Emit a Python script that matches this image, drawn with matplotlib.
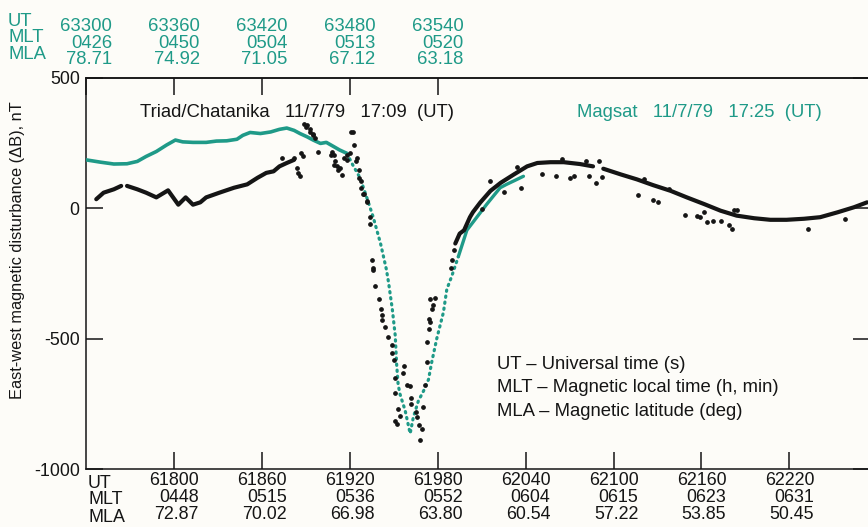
import matplotlib
matplotlib.use("Agg")
import matplotlib.pyplot as plt
import numpy as np

# ---------------- data ----------------
# bottom axis (Triad/Chatanika) tick annotations
triad_tick_ut = [61800, 61860, 61920, 61980, 62040, 62100, 62160, 62220]
triad_tick_mlt = ["0448", "0515", "0536", "0552", "0604", "0615", "0623", "0631"]
triad_tick_mla = ["72.87", "70.02", "66.98", "63.80", "60.54", "57.22", "53.85", "50.45"]

# top axis (Magsat) tick annotations
magsat_tick_ut = [63300, 63360, 63420, 63480, 63540]
magsat_tick_mlt = ["0426", "0450", "0504", "0513", "0520"]
magsat_tick_mla = ["78.71", "74.92", "71.05", "67.12", "63.18"]

# Magsat UT shown at the left edge vs Triad UT at the left edge
triad_ut_start = 61740
triad_ut_end = 62275
magsat_ut_start = 63300

y_ticks = [500, 0, -500, -1000]
y_tick_labels = ["500", "0", "-500", "-1000"]

# Magsat east-west disturbance (Magsat UT, nT)
magsat_ut = [63300, 63310, 63319, 63328, 63335, 63341, 63348, 63355, 63361, 63366,
             63373, 63382, 63389, 63396, 63403, 63407, 63412, 63419, 63426, 63432,
             63437, 63442, 63446, 63451, 63455, 63460, 63464, 63469, 63473, 63478,
             63482, 63487, 63492, 63496, 63501, 63505, 63506.5, 63509, 63511, 63512,
             63513, 63514.3, 63517.8, 63521.2, 63523.4, 63526.8, 63530.3, 63533.7, 63536,
             63539.4, 63543.9, 63546.2, 63549.6, 63554.1, 63559.9, 63566.7, 63573.5,
             63582.6, 63587, 63593, 63598.5]
magsat_db = [186, 177, 170, 171, 180, 199, 218, 243, 262, 255,
             253, 253, 258, 259, 265, 280, 291, 287, 293, 303,
             308, 299, 287, 274, 262, 249, 253, 237, 224, 211,
             167, 117, 35, -34, -135, -235, -286, -386, -487, -600,
             -676, -713, -776, -864, -801, -739, -701, -657, -588,
             -499, -399, -311, -260, -185, -84, -34, 16,
             79, 92, 108, 123]
magsat_sparse_from = 63478   # sampled sparsely (dotted look) between these UTs
magsat_sparse_to = 63550

# Triad dense band (Triad UT, nT); NaN marks gaps in the record
triad_line_ut = [61747, 61752, 61759, 61764, np.nan, 61768, 61775, 61781, 61788, 61796,
                 61803, 61808, 61813, 61818, 61822, 61831, 61841, 61850, 61857, 61863,
                 61868, 61872, 61877, 61882, np.nan,
                 61992, 61995, 61998, 62000, 62002, 62004, 62009, 62016, 62023, 62032,
                 62041, 62048, 62057, 62066, 62077, 62086, np.nan,
                 62093, 62105, 62116, 62127, 62139, 62150, 62162, 62173, 62184, 62196,
                 62207, 62218, 62230, 62241, 62253, 62264, 62273]
triad_line_db = [35, 60, 73, 86, np.nan, 86, 73, 60, 42, 69,
                 14, 42, 14, 23, 42, 60, 79, 92, 117, 136,
                 142, 161, 174, 186, np.nan,
                 -135, -97, -84, -59, -34, -15, 22, 67, 98, 130,
                 161, 174, 177, 177, 170, 161, np.nan,
                 152, 130, 111, 89, 67, 42, 16, -9, -28, -38,
                 -44, -44, -40, -34, -15, 4, 23]

# Triad scattered samples (Triad UT, nT)
triad_pts_ut = [61874, 61882, 61884, 61885, 61886, 61887, 61888, 61889, 61890, 61891,
                61893, 61893, 61895, 61895, 61896, 61898, 61907, 61908, 61909, 61909,
                61910, 61911, 61912, 61913, 61915, 61916, 61918, 61918, 61920,
                61921, 61922, 61923, 61924, 61925, 61926, 61926, 61928, 61928, 61929,
                61930, 61932, 61932, 61934, 61934, 61935, 61936, 61936, 61937, 61940,
                61941, 61942, 61942, 61944, 61946, 61949, 61949, 61950, 61957, 61956,
                61951, 61959, 61961, 61951, 61962, 61962, 61953, 61954, 61965, 61966,
                61951, 61952, 61967, 61969, 61968,
                61970, 61971, 61973, 61973, 61974, 61975, 61974, 61976, 61975, 61977,
                61978, 61989, 61990, 61991,
                62010, 62016, 62025, 62037, 62034, 62051, 62061, 62065, 62070, 62073,
                62081, 62083, 62088, 62090, 62092, 62117, 62121, 62127, 62130, 62138,
                62149, 62157, 62159, 62162, 62164, 62168, 62173, 62179, 62181, 62182,
                62184, 62233, 62258]
triad_pts_db = [195, 192, 155, 136, 123, 211, 199, 325, 312, 318,
                293, 306, 280, 287, 268, 218, 205, 218, 167, 205,
                180, 161, 148, 155, 129, 192, 205, 186, 211,
                293, 293, 243, 180, 192, 148, 117, 105, 79, 54,
                54, 29, 23, -34, -59, -197, -235, -229, -298, -348,
                -386, -411, -430, -455, -493, -525, -556, -581, -606, -631,
                -650, -676, -682, -707, -726, -751, -770, -795, -782, -801,
                -814, -827, -833, -845, -890,
                -763, -676, -588, -512, -462, -437, -424, -386, -348, -370,
                -343, -230, -197, -160,
                -3, 105, 64, 77, 157, 130, 123, 190, 117, 123,
                182, 123, 98, 180, 120, 52, 111, 31, 26, 73,
                -24, -31, -34, -15, -53, -49, -50, -65, -78, -6,
                -6, -78, -40]

# ---------------- style ----------------
TEAL = "#1f9a88"
INK = "#151515"
BG = "#fdfcf8"
FONT = "Liberation Sans"
FS = 13.3
FS_BOT = 12.9

plt.rcParams["font.family"] = [FONT, "DejaVu Sans"]

fig = plt.figure(figsize=(8.68, 5.27), dpi=100, facecolor=BG)
ax = fig.add_axes([86 / 868, 1 - 469 / 527, 784 / 868, 391 / 527], facecolor=BG)

ut_offset = magsat_ut_start - triad_ut_start
m_ut = np.array(magsat_ut, dtype=float) - ut_offset
m_db = np.array(magsat_db, dtype=float)
m_raw = np.array(magsat_ut, dtype=float)
sparse_idx = np.where((m_raw > magsat_sparse_from) & (m_raw < magsat_sparse_to))[0]
sp = slice(sparse_idx[0] - 1, sparse_idx[-1] + 2)

ax.plot(np.where(m_raw <= magsat_sparse_from, m_ut, np.nan), m_db,
        color=TEAL, lw=2.6, solid_capstyle="round", zorder=3)
ax.plot(np.where(m_raw >= magsat_sparse_to, m_ut, np.nan), m_db,
        color=TEAL, lw=2.4, solid_capstyle="round", zorder=3)
ax.plot(m_ut[sp], m_db[sp], color=TEAL, lw=2.3, ls=(0, (0.4, 1.5)),
        dash_capstyle="round", zorder=3)

ax.plot(triad_line_ut, triad_line_db, color=INK, lw=3.0, solid_capstyle="round",
        solid_joinstyle="round", zorder=4)
ax.plot(triad_pts_ut, triad_pts_db, ls="none", marker="o", ms=2.4, color=INK, zorder=4)

ax.set_xlim(triad_ut_start, triad_ut_end)
ax.set_ylim(-1000, 500)

for s in ax.spines.values():
    s.set_linewidth(1.1)
    s.set_color(INK)

# y axis
ax.set_yticks(y_ticks)
ax.set_yticklabels(y_tick_labels)
ax.tick_params(axis="y", which="both", direction="in", length=12, width=1.1,
               pad=4.5, labelsize=FS_BOT, colors=INK, right=True)

# bottom axis
ax.set_xticks(triad_tick_ut)
ax.set_xticklabels([f"{u}\n{t}\n{a}" for u, t, a in
                    zip(triad_tick_ut, triad_tick_mlt, triad_tick_mla)])
ax.tick_params(axis="x", direction="in", length=12, width=1.1, pad=2.5,
               labelsize=FS_BOT, colors=INK)
for lab in ax.get_xticklabels():
    lab.set_multialignment("right")
    lab.set_linespacing(1.0)

# top axis (Magsat)
sec = ax.secondary_xaxis("top", functions=(lambda x: x + ut_offset,
                                           lambda x: x - ut_offset))
sec.set_xticks(magsat_tick_ut)
sec.set_xticklabels([f"{u}\n{t}\n{a}" for u, t, a in
                     zip(magsat_tick_ut, magsat_tick_mlt, magsat_tick_mla)])
sec.tick_params(axis="x", direction="in", length=12, width=1.1, pad=7,
                labelsize=FS, color=INK, labelcolor=TEAL)
sec.spines["top"].set_linewidth(1.1)
sec.spines["top"].set_color(INK)
for lab in sec.get_xticklabels():
    lab.set_multialignment("right")
    lab.set_linespacing(0.98)
    lab.set_color(TEAL)

# row headers
fig.text(8 / 868, 1 - 38 / 527, "UT\nMLT\nMLA", ha="left", va="center",
         fontsize=FS, color=TEAL, linespacing=0.98)
fig.text(88 / 868, 1 - 500 / 527, "UT\nMLT\nMLA", ha="left", va="center",
         fontsize=FS_BOT, color=INK, linespacing=1.0)

# y label
fig.text(18 / 868, 1 - 250 / 527, "East-west magnetic disturbance (ΔB), nT",
         rotation=90, ha="center", va="center", fontsize=11.8, color=INK)

# titles
ax.text(0.0689, 0.913, "Triad/Chatanika   11/7/79   17:09  (UT)", transform=ax.transAxes,
        ha="left", va="center", fontsize=FS, color=INK)
ax.text(0.626, 0.913, "Magsat   11/7/79   17:25  (UT)", transform=ax.transAxes,
        ha="left", va="center", fontsize=FS, color=TEAL)

# key
key_lines = ["UT \u2013 Universal time (s)",
             "MLT \u2013 Magnetic local time (h, min)",
             "MLA \u2013 Magnetic latitude (deg)"]
ax.text(0.524, 0.208, "\n".join(key_lines), transform=ax.transAxes,
        ha="left", va="center", fontsize=FS, color=INK, linespacing=1.5)

fig.savefig("out.png", dpi=100, facecolor=BG)
